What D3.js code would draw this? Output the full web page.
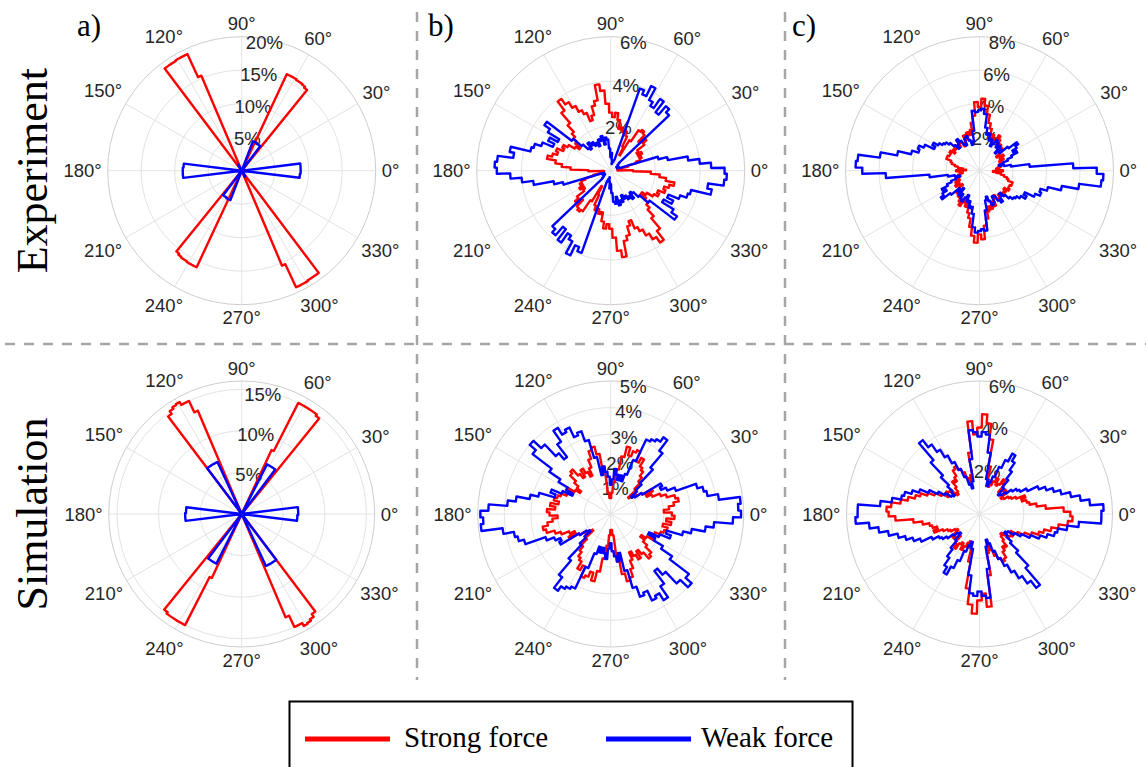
<!DOCTYPE html>
<html><head><meta charset="utf-8">
<script src="https://cdn.jsdelivr.net/npm/d3@7"></script>
<style>body{margin:0;background:#fff}svg{display:block}</style>
</head><body>
<svg id="c" width="1146" height="767"></svg>
<script>
// ---------- DATA ----------
const thetaTicks = [0,30,60,90,120,150,180,210,240,270,300,330];
const panelLetters = ["a)","b)","c)"];
const rowNames = ["Experiment","Simulation"];
const seriesNames = ["Strong force","Weak force"];
const seriesColors = ["#ff0000","#0000ff"];

// r-axis limits and tick values per panel (percent)
const rLimits = [[20,6,8],[16,5,6]];
const rTicks = [[[5,10,15,20],[2,4,6],[2,4,6,8]],
                [[5,10,15],[1,2,3,4,5],[2,4,6]]];

// angular bin width of each stored series (degrees); bins cover 0..180 and repeat at +180
const angleSteps = [[2,3,3],[2,3,3]];

// a) Experiment, 2 deg bins, 0..178
const expA_strong = [0,0,0,0,0,0,0,0,0,0, 0,0,0,0,0,0,0,0,0,0, 0,0,0,0,0,0,15.5,15.7,15.8,15.8,
 15.9,15.9,15.9,0,0,0,0,0,0,0, 0,0,0,0,0,0,0,0,0,0, 0,0,0,0,0,0,0,15.4,19.2,19.2,
 19.2,19.1,19.1,19.1,0,0,0,0,0,0, 0,0,0,0,0,0,0,0,0,0, 0,0,0,0,0,0,0,0,0,0];
const expA_weak = [8.8,8.8,8.8,8.8,0,0,0,0,0,0, 0,0,0,0,0,0,0,0,0,0, 0,0,0,0,0,0,0,4.6,4.6,4.6,
 4.6,4.7,4.7,4.7,4.7,0,0,0,0,0, 0,0,0,0,0,0,0,0,0,0, 0,0,0,0,0,0,0,0,0,1.0,
 1.0,1.0,0,0,0,0,0,0,0,0, 0,0,0,0,0,0,0,0,0,0, 0,0,0,0,0,0,0,8.7,8.7,8.8];
// a) Simulation
const simA_strong = [0,0,0,0,0,0,0,0,0,0, 0,0,0,0,0,0,0,0,0,0, 0,0,0,0,0,0,14.8,15.0,15.0,15.0,
 15.0,15.0,8.5,0,0,0,0,0,0,0, 0,0,0,0,0,0,0,0,0,0, 0,0,0,0,0,0,0,13.5,15.0,15.0,
 15.4,15.3,15.1,14.7,0,0,0,0,0,0, 0,0,0,0,0,0,0,0,0,0, 0,0,0,0,0,0,0,0,0,0];
const simA_weak = [6.8,6.8,6.8,6.8,0,0,0,0,0,0, 0,0,0,0,0,0,0,0,0,0, 0,0,0,0,0,0,0,6.7,6.7,6.7,
 6.7,6.7,0,0,0,0,0,0,0,0, 0,0,0,0,0,0,0,0,0,0, 0,0,0,0,0,0,0,0,6.9,6.9,
 6.9,6.9,6.9,6.9,0,0,0,0,0,0, 0,0,0,0,0,0,0,0,0,0, 0,0,0,0,0,0,0,6.7,6.7,6.7];

// b) and c), 3 deg bins, 0..177
const expB_strong = [1.0,0.3,0.3,0.4,0.5,0.8,1.2,1.4,1.5,1.4, 1.6,1.4,1.5,1.9,2.1,1.8,2.2,2.3,2.2,1.6,
 0.8,1.2,1.7,1.9,1.8,2.0,1.9,2.3,2.6,2.4, 2.6,3.0,3.6,3.9,3.2,3.0,2.6,2.4,2.8,3.0,
 3.3,3.6,3.9,3.4,2.8,2.4,2.2,2.0,1.7,1.9, 2.2,2.4,2.3,2.6,2.5,2.7,2.9,2.5,2.2,1.8];
const expB_weak = [5.1,4.5,4.0,3.5,2.6,2.2,0.4,0.3,0.3,0.4, 0.3,0.3,0.4,0.4,0.5,3.6,3.8,3.3,3.9,3.4,
 3.6,4.2,3.7,3.9,0.5,0.4,0.4,0.3,0.5,0.8, 0.6,1.0,1.4,1.5,1.2,1.6,1.4,1.5,1.2,1.4,
 1.3,1.5,1.4,1.6,1.3,1.4,1.7,2.2,3.6,3.3, 2.7,3.1,2.8,3.3,3.6,3.7,4.6,4.4,5.1,5.2];
const expC_strong = [1.4,1.2,1.0,1.1,1.3,1.2,1.4,1.5,1.3,1.6, 1.4,1.7,1.5,1.3,1.6,1.9,1.7,2.0,1.8,2.2,
 2.4,2.1,1.9,2.3,2.0,2.6,2.9,3.4,3.9,4.3, 3.8,4.1,3.3,2.9,2.5,2.2,2.4,2.0,2.3,1.9,
 1.7,2.0,2.2,1.8,1.9,2.1,1.9,2.0,1.8,2.1, 2.0,2.0,2.1,2.1,1.8,1.7,1.5,1.3,1.0,0.8];
const expC_weak = [7.0,5.6,3.0,1.9,1.5,1.2,1.5,1.8,2.1,2.5, 2.3,2.6,2.8,2.2,1.6,1.8,1.4,1.9,1.7,2.0,
 2.1,1.8,1.6,2.0,1.9,2.3,2.2,2.6,3.4,3.7, 3.6,3.5,3.6,2.4,1.8,1.6,1.9,2.2,2.1,1.7,
 1.8,2.1,2.3,2.0,1.8,2.1,2.4,2.6,2.7,2.9, 3.2,3.0,3.6,3.9,3.8,4.2,5.0,6.0,7.3,7.4];
const simB_strong = [2.3,2.0,2.2,2.4,2.6,2.5,2.2,2.0,1.7,1.5, 1.8,1.4,1.2,1.0,0.9,1.3,1.6,1.8,2.0,2.1,
 2.4,2.2,2.6,2.5,2.3,2.6,2.2,1.7,1.2,0.8, 0.6,0.6,0.8,1.8,2.3,2.6,2.5,2.2,1.9,1.6,
 1.8,2.0,1.7,1.9,2.2,2.1,1.8,1.6,1.4,1.6, 1.9,1.7,1.8,2.0,2.1,2.2,2.0,2.3,2.1,2.4];
const simB_weak = [4.9,4.8,4.9,4.1,3.7,3.6,3.4,2.6,2.3,2.1, 2.2,1.4,1.1,1.0,1.3,1.6,2.3,3.0,3.5,3.3,
 3.2,3.1,2.2,1.6,1.3,1.5,1.3,1.5,1.7,1.3, 1.1,1.4,1.6,1.8,1.5,2.2,2.9,3.3,3.2,3.6,
 3.5,3.8,3.3,2.7,3.0,3.6,4.0,3.7,2.8,2.3, 1.9,1.6,2.0,2.4,2.2,2.8,3.1,3.6,3.9,4.6];
const simC_strong = [4.1,3.8,3.0,2.6,2.3,2.2,2.0,2.2,1.8,1.6, 1.5,1.3,1.2,1.4,1.6,1.5,1.3,1.7,1.9,1.6,
 1.5,1.8,1.6,1.4,1.3,1.6,2.2,3.4,4.1,4.5, 3.9,3.6,4.2,2.8,1.8,1.5,1.7,2.0,2.2,2.4,
 2.3,2.0,1.8,1.9,1.6,1.4,1.3,1.5,1.7,1.8, 1.6,1.9,2.2,2.5,2.8,3.0,3.3,3.6,4.0,4.2];
const simC_weak = [5.5,5.6,5.0,4.6,4.2,3.8,3.5,3.2,2.9,2.4, 2.1,2.0,1.8,1.5,1.3,1.2,1.6,2.0,2.4,2.8,
 3.1,2.7,2.3,1.8,1.5,1.3,1.6,2.8,3.6,3.7, 3.5,3.7,3.8,2.5,1.5,1.2,1.4,1.8,2.2,2.6,
 3.0,3.4,3.8,4.2,3.2,2.4,1.9,1.6,1.4,1.5, 1.8,2.1,2.5,2.9,3.2,3.5,3.6,4.0,4.5,5.5];

const seriesData = [
  [[expA_strong,expA_weak],[expB_strong,expB_weak],[expC_strong,expC_weak]],
  [[simA_strong,simA_weak],[simB_strong,simB_weak],[simC_strong,simC_weak]]
];

// ---------- LAYOUT ----------
const colX = [241.7, 610.7, 979.5];
const rowY = [170.7, 514];
const rowR = [134, 133];
const svg = d3.select("#c");
const toRad = d => d*Math.PI/180;
const axisFont = "Liberation Sans, Arial, sans-serif";
const serifFont = "Liberation Serif, Times New Roman, serif";

// separators
const dashStyle = s => s.attr("stroke","#a6a6a6").attr("stroke-width",2.5).attr("stroke-dasharray","10,9").attr("fill","none");
svg.append("line").attr("x1",5).attr("x2",1146).attr("y1",344).attr("y2",344).call(dashStyle);
[417,785].forEach(x=>svg.append("line").attr("x1",x).attr("x2",x).attr("y1",12).attr("y2",680).call(dashStyle));

for (let row=0; row<2; row++) {
  for (let col=0; col<3; col++) {
    const cx=colX[col], cy=rowY[row], R=rowR[row];
    const rMax = rLimits[row][col];
    const r = d3.scaleLinear().domain([0,rMax]).range([0,R]);
    const g = svg.append("g").attr("transform",`translate(${cx},${cy})`);
    rTicks[row][col].filter(t=>t<rMax).forEach(t=>{
      g.append("circle").attr("r",r(t)).attr("fill","none").attr("stroke","#e3e3e3").attr("stroke-width",1);
    });
    thetaTicks.forEach(a=>{
      g.append("line").attr("x1",0).attr("y1",0)
        .attr("x2",R*Math.cos(toRad(a))).attr("y2",-R*Math.sin(toRad(a)))
        .attr("stroke","#e3e3e3").attr("stroke-width",1);
    });
    g.append("circle").attr("r",R).attr("fill","none").attr("stroke","#cdcdcd").attr("stroke-width",1);
    thetaTicks.forEach(a=>{
      const t = g.append("text").text(a+"°").attr("font-family",axisFont)
        .attr("font-size",18.5).attr("fill","#262626").attr("text-anchor","middle");
      const w = t.node().getComputedTextLength();
      const c = Math.cos(toRad(a)), s = Math.sin(toRad(a));
      const d = R + 6 + (w/2)*Math.abs(c) + 7*Math.abs(s);
      t.attr("x", d*c).attr("y", -d*s + 6.6);
    });
    rTicks[row][col].forEach(t=>{
      const d = r(t)*0.975;
      g.append("text").text(t+"%").attr("font-family",axisFont)
        .attr("font-size",18.5).attr("fill","#262626").attr("text-anchor","middle")
        .attr("x", d*Math.cos(toRad(80))).attr("y", -d*Math.sin(toRad(80)) + 6.6);
    });
    // series drawn as polar stairs
    const step = angleSteps[row][col];
    const line = d3.lineRadial()
      .angle(p=>Math.PI/2 - toRad(p.a))
      .radius(p=>r(p.v))
      .curve(d3.curveLinearClosed);
    seriesData[row][col].forEach((arr,si)=>{
      const pts=[];
      for (let k=0;k<2;k++) arr.forEach((v,i)=>{
        const a0 = i*step+180*k - step/2;
        pts.push({a:a0, v:v});
        pts.push({a:a0+step/2, v:v});
        pts.push({a:a0+step, v:v});
      });
      g.append("path").attr("d",line(pts)).attr("fill","none")
        .attr("stroke",seriesColors[si]).attr("stroke-width",2.4).attr("stroke-linejoin","round");
    });
  }
}

const letterX = [77, 428, 792];
panelLetters.forEach((l,i)=>{
  svg.append("text").text(l).attr("x",letterX[i]).attr("y",36)
    .attr("font-family",serifFont).attr("font-size",31).attr("fill","#000");
});
rowNames.forEach((n,i)=>{
  svg.append("text").text(n).attr("transform",`translate(47,${rowY[i]}) rotate(-90)`)
    .attr("text-anchor","middle").attr("font-family",serifFont)
    .attr("font-size",44).attr("fill","#000");
});

svg.append("rect").attr("x",289.5).attr("y",701.5).attr("width",563).attr("height",80)
  .attr("fill","#fff").attr("stroke","#000").attr("stroke-width",2);
const legX = [[305,390,404],[606,691,701]];
seriesNames.forEach((n,i)=>{
  svg.append("line").attr("x1",legX[i][0]).attr("x2",legX[i][1]).attr("y1",739).attr("y2",739)
    .attr("stroke",seriesColors[i]).attr("stroke-width",5);
  svg.append("text").text(n).attr("x",legX[i][2]).attr("y",747)
    .attr("font-family",serifFont).attr("font-size",29).attr("fill","#000");
});
</script>
</body></html>
